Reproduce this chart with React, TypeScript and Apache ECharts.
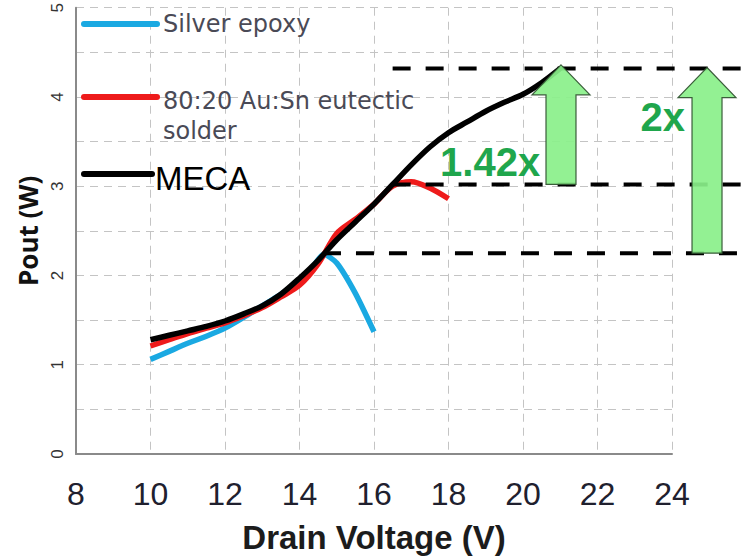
import React, { useEffect, useRef } from "react";
import * as echarts from "echarts";

// ---- data ----
const silverV = [10, 10.5, 11, 11.5, 12, 12.5, 13, 13.5, 14, 14.3, 14.65, 15, 15.5, 16];
const silverP = [1.06, 1.15, 1.24, 1.32, 1.41, 1.53, 1.66, 1.79, 1.93, 2.06, 2.24, 2.14, 1.8, 1.37];

const ausnV = [10, 10.5, 11, 11.5, 12, 12.5, 13, 13.5, 14, 14.5, 15, 15.5, 16, 16.5, 17, 17.5, 18];
const ausnP = [1.21, 1.28, 1.35, 1.41, 1.47, 1.55, 1.64, 1.76, 1.89, 2.13, 2.47, 2.63, 2.8, 3.0, 3.05, 2.98, 2.86];

const mecaV = [10, 10.5, 11, 11.5, 12, 12.5, 13, 13.5, 14, 14.5, 15, 15.5, 16, 16.5, 17, 17.5, 18, 18.5, 19, 19.5, 20, 20.5, 21];
const mecaP = [1.28, 1.33, 1.38, 1.43, 1.49, 1.57, 1.66, 1.79, 1.97, 2.17, 2.4, 2.6, 2.8, 3.02, 3.24, 3.44, 3.6, 3.72, 3.84, 3.94, 4.03, 4.16, 4.32];

const seriesNames = ["Silver epoxy", "80:20 Au:Sn eutectic\nsolder", "MECA"];
const seriesColors = ["#1aa9e2", "#ee1b1b", "#000000"];

const xMin = 8;
const xMax = 24;
const xStep = 2;
const yMin = 0;
const yMax = 5;
const yStep = 0.5;

// reference (dashed) levels and where they start
const refLevels = [4.32, 3.02, 2.25];
const refStartV = [16.5, 16.5, 14.63];

// gain arrows
const arrowV = [21.02, 24.94];
const arrowFrom = [3.02, 2.25];
const arrowTo = [4.36, 4.33];
const gainLabels = ["1.42x", "2x"];
const gainLabelV = [20.46, 24.35];
const gainLabelP = [3.27, 3.78];

const pairs = (xs: number[], ys: number[]) => xs.map((x, i) => [x, ys[i]]);

export default function App() {
  const ref = useRef<HTMLDivElement>(null);

  useEffect(() => {
    if (!ref.current) return;
    const chart = echarts.init(ref.current, undefined, { renderer: "svg" });

    const option: any = {
      animation: false,
      backgroundColor: "#ffffff",
      grid: { left: 76, right: 69, top: 7, bottom: 106, containLabel: false },
      xAxis: {
        type: "value",
        min: xMin,
        max: xMax,
        interval: xStep,
        name: "Drain Voltage (V)",
        nameLocation: "middle",
        nameGap: 67,
        nameTextStyle: {
          fontFamily: "Liberation Sans, Arial, sans-serif",
          fontWeight: "bold",
          fontSize: 33,
          color: "#1c1c1c",
        },
        axisLine: { show: true, lineStyle: { color: "#8a8a8a", width: 2 } },
        axisTick: { show: false },
        axisLabel: {
          margin: 24,
          fontFamily: "Liberation Sans, Arial, sans-serif",
          fontSize: 32,
          color: "#20202e",
        },
        splitLine: { show: true, lineStyle: { color: "#c4c4c4", type: [8, 6], width: 1 } },
      },
      yAxis: {
        type: "value",
        min: yMin,
        max: yMax,
        interval: yStep,
        name: "Pout (W)",
        nameLocation: "middle",
        nameGap: 30,
        nameTextStyle: {
          fontFamily: "Open Sans, Liberation Sans, sans-serif",
          fontWeight: "bold",
          fontSize: 26,
          color: "#111111",
        },
        axisLine: { show: true, lineStyle: { color: "#8a8a8a", width: 2 } },
        axisTick: { show: false },
        axisLabel: {
          rotate: 90,
          margin: 10,
          fontFamily: "Liberation Sans, Arial, sans-serif",
          fontSize: 17,
          color: "#333333",
          formatter: (v: number) => (Math.abs(v - Math.round(v)) < 1e-6 ? String(Math.round(v)) : ""),
        },
        splitLine: { show: true, lineStyle: { color: "#c4c4c4", type: [8, 6], width: 1 } },
      },
      series: [
        {
          name: seriesNames[0],
          type: "line",
          data: pairs(silverV, silverP),
          smooth: 0.2,
          symbol: "none",
          lineStyle: { color: seriesColors[0], width: 5.5 },
          z: 2,
        },
        {
          name: seriesNames[1],
          type: "line",
          data: pairs(ausnV, ausnP),
          smooth: 0.3,
          symbol: "none",
          lineStyle: { color: seriesColors[1], width: 5.5 },
          z: 3,
        },
        {
          name: seriesNames[2],
          type: "line",
          data: pairs(mecaV, mecaP),
          smooth: 0.3,
          symbol: "none",
          lineStyle: { color: seriesColors[2], width: 5.5 },
          z: 4,
        },
      ],
    };

    chart.setOption(option);

    const px = (x: number, y: number) => chart.convertToPixel({ gridIndex: 0 }, [x, y]) as number[];
    const W = chart.getWidth();
    const graphics: any[] = [];

    // dashed reference lines
    refLevels.forEach((lvl, i) => {
      const a = px(refStartV[i], lvl);
      graphics.push({
        type: "line",
        z: 20,
        shape: { x1: a[0], y1: a[1], x2: W, y2: a[1] },
        style: { stroke: "#000000", lineWidth: 4, lineDash: [18, 15] },
      });
    });

    // arrows
    arrowV.forEach((v, i) => {
      const tip = px(v, arrowTo[i]);
      const base = px(v, arrowFrom[i]);
      const cx = tip[0];
      const shaftHalf = 15;
      const headHalf = 29;
      const headH = 30;
      const hy = tip[1] + headH;
      graphics.push({
        type: "polygon",
        z: 25,
        shape: {
          points: [
            [cx, tip[1]],
            [cx + headHalf, hy],
            [cx + shaftHalf, hy],
            [cx + shaftHalf, base[1]],
            [cx - shaftHalf, base[1]],
            [cx - shaftHalf, hy],
            [cx - headHalf, hy],
          ],
        },
        style: { fill: "#8af08a", stroke: "#2f4f2f", lineWidth: 1.2, opacity: 0.92 },
      });
    });

    // gain labels
    gainLabels.forEach((t, i) => {
      const p = px(gainLabelV[i], gainLabelP[i]);
      graphics.push({
        type: "text",
        z: 30,
        x: p[0],
        y: p[1],
        style: {
          text: t,
          fill: "#1fa64c",
          fontFamily: "Liberation Sans, Arial, sans-serif",
          fontWeight: "bold",
          fontSize: 40,
          align: "right",
          verticalAlign: "middle",
        },
      });
    });

    // legend (drawn)
    const legendY = [24, 97, 174];
    const legendX2 = [157, 157, 152];
    const legendTextX = [163, 163, 155];
    legendY.forEach((y, i) => {
      graphics.push({
        type: "line",
        z: 30,
        shape: { x1: 84, y1: y, x2: legendX2[i], y2: y },
        style: { stroke: seriesColors[i], lineWidth: 6, lineCap: "round" },
      });
    });
    graphics.push({
      type: "text",
      z: 30,
      x: legendTextX[0],
      y: 24,
      style: {
        text: seriesNames[0],
        fill: "#4a4a56",
        fontFamily: "DejaVu Sans, sans-serif",
        fontSize: 24,
        align: "left",
        verticalAlign: "middle",
      },
    });
    graphics.push({
      type: "text",
      z: 30,
      x: legendTextX[1],
      y: 86,
      style: {
        text: seriesNames[1],
        fill: "#4a4a56",
        fontFamily: "DejaVu Sans, sans-serif",
        fontSize: 24,
        lineHeight: 30,
        align: "left",
        verticalAlign: "top",
      },
    });
    graphics.push({
      type: "text",
      z: 30,
      x: legendTextX[2],
      y: 178,
      style: {
        text: seriesNames[2],
        fill: "#000000",
        fontFamily: "Liberation Sans, Arial, sans-serif",
        fontSize: 33,
        align: "left",
        verticalAlign: "middle",
      },
    });

    chart.setOption({ graphic: graphics });

    return () => {
      chart.dispose();
    };
  }, []);

  return (
    <div
      ref={ref}
      style={{ position: "fixed", left: 0, top: 0, width: 741, height: 560 }}
    />
  );
}
